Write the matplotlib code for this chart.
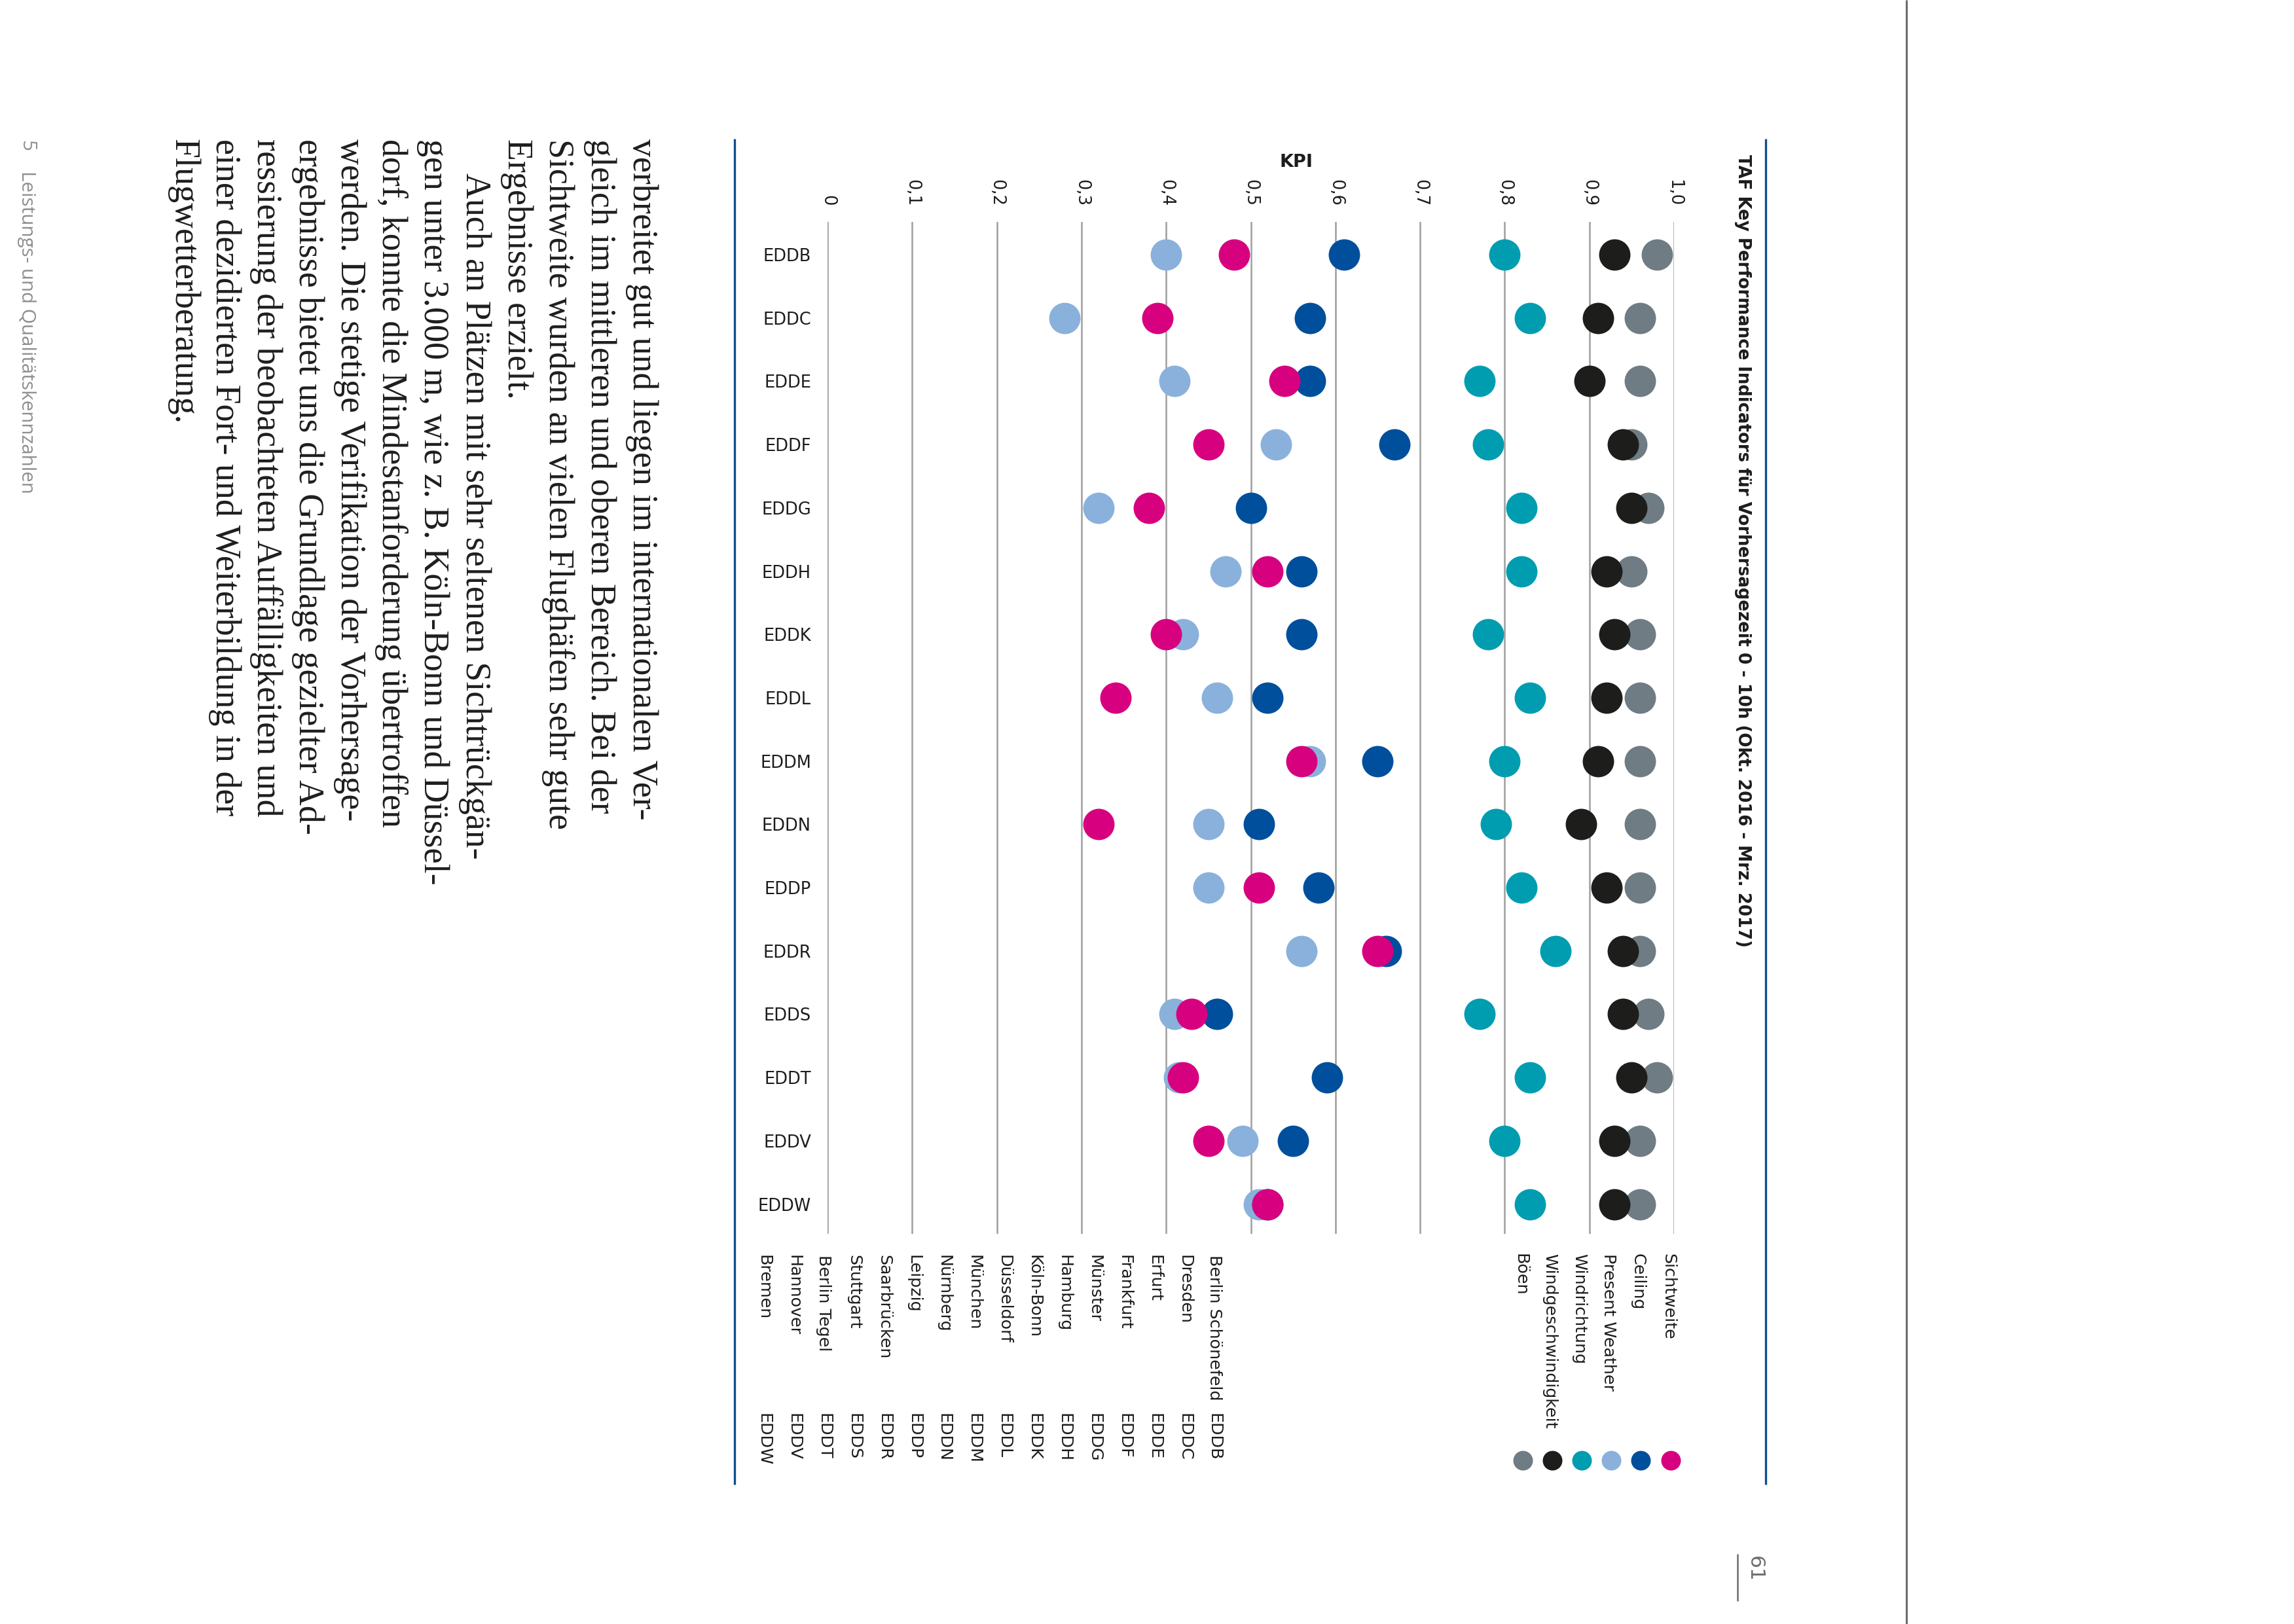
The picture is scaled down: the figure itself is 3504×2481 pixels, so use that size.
import numpy as np
import matplotlib
matplotlib.use("Agg")
import matplotlib.pyplot as plt
from matplotlib.lines import Line2D

# ---------------- data ----------------
stations = ['EDDB', 'EDDC', 'EDDE', 'EDDF', 'EDDG', 'EDDH', 'EDDK', 'EDDL',
            'EDDM', 'EDDN', 'EDDP', 'EDDR', 'EDDS', 'EDDT', 'EDDV', 'EDDW']
station_names = ['Berlin Schönefeld', 'Dresden', 'Erfurt', 'Frankfurt', 'Münster',
                 'Hamburg', 'Köln-Bonn', 'Düsseldorf', 'München', 'Nürnberg',
                 'Leipzig', 'Saarbrücken', 'Stuttgart', 'Berlin Tegel', 'Hannover', 'Bremen']
sichtweite = [0.48, 0.39, 0.54, 0.45, 0.38, 0.52, 0.40, 0.34, 0.56, 0.32, 0.51, 0.65, 0.43, 0.42, 0.45, 0.52]
ceiling = [0.61, 0.57, 0.57, 0.67, 0.50, 0.56, 0.56, 0.52, 0.65, 0.51, 0.58, 0.66, 0.46, 0.59, 0.55, 0.52]
present_weather = [0.40, 0.28, 0.41, 0.53, 0.32, 0.47, 0.42, 0.46, 0.57, 0.45, 0.45, 0.56, 0.41, 0.415, 0.49, 0.51]
windrichtung = [0.80, 0.83, 0.77, 0.78, 0.82, 0.82, 0.78, 0.83, 0.80, 0.79, 0.82, 0.86, 0.77, 0.83, 0.80, 0.83]
windgeschwindigkeit = [0.93, 0.91, 0.90, 0.94, 0.95, 0.92, 0.93, 0.92, 0.91, 0.89, 0.92, 0.94, 0.94, 0.95, 0.93, 0.93]
boeen = [0.98, 0.96, 0.96, 0.95, 0.97, 0.95, 0.96, 0.96, 0.96, 0.96, 0.96, 0.96, 0.97, 0.98, 0.96, 0.96]

series_names = ['Sichtweite', 'Ceiling', 'Present Weather', 'Windrichtung',
                'Windgeschwindigkeit', 'Böen']
series_values = [sichtweite, ceiling, present_weather, windrichtung,
                 windgeschwindigkeit, boeen]
series_colors = ['#d7007f', '#004f9c', '#8ab1db', '#009db1', '#1d1e1c', '#6f7c84']

kpi_ticks = [0.0, 0.1, 0.2, 0.3, 0.4, 0.5, 0.6, 0.7, 0.8, 0.9, 1.0]
kpi_labels = ['0', '0,1', '0,2', '0,3', '0,4', '0,5', '0,6', '0,7', '0,8', '0,9', '1,0']

title = 'TAF Key Performance Indicators für Vorhersagezeit 0 - 10h (Okt. 2016 - Mrz. 2017)'

body_lines = [
    'verbreitet gut und liegen im internationalen Ver-',
    'gleich im mittleren und oberen Bereich. Bei der',
    'Sichtweite wurden an vielen Flughäfen sehr gute',
    'Ergebnisse erzielt.',
    'Auch an Plätzen mit sehr seltenen Sichtrückgän-',
    'gen unter 3.000 m, wie z. B. Köln-Bonn und Düssel-',
    'dorf, konnte die Mindestanforderung übertroffen',
    'werden. Die stetige Verifikation der Vorhersage-',
    'ergebnisse bietet uns die Grundlage gezielter Ad-',
    'ressierung der beobachteten Auffälligkeiten und',
    'einer dezidierten Fort- und Weiterbildung in der',
    'Flugwetterberatung.',
]
body_indent = [0, 0, 0, 0, 1, 0, 0, 0, 0, 0, 0, 0]

# ---------------- page setup ----------------
W, H = 3504, 2481
DPI = 300
plt.rcParams['font.family'] = ['DejaVu Sans']

fig = plt.figure(figsize=(W / DPI, H / DPI), dpi=DPI)
fig.patch.set_facecolor('white')
renderer = fig.canvas.get_renderer()


def fx(px):
    return px / W


def fy(py):
    return 1 - py / H


def fit_size(s, target_px, **kw):
    t = fig.text(0, 0, s, size=10, **kw)
    w = t.get_window_extent(renderer).width
    t.remove()
    return 10.0 * target_px / w


def vline(x, y0, y1, color, lw):
    fig.add_artist(Line2D([fx(x), fx(x)], [fy(y0), fy(y1)], transform=fig.transFigure,
                          color=color, lw=lw, solid_capstyle='butt'))


def vtext(x, y, s, **kw):
    # text reading top-to-bottom, starting at pixel (x, y)
    return fig.text(fx(x), fy(y), s, rotation=-90, rotation_mode='anchor',
                    ha='left', va='center', **kw)


TXT = '#1c1c1c'

# ---------------- chart axes ----------------
ax_left, ax_right, ax_top, ax_bottom = 1264, 2557, 339, 1885
ax = fig.add_axes([fx(ax_left), fy(ax_bottom), fx(ax_right) - fx(ax_left), fy(ax_top) - fy(ax_bottom)])
ax.set_xlim(0, 1)
ypos = np.arange(len(stations))
ax.set_ylim(15.47, -0.517)
for sp in ax.spines.values():
    sp.set_visible(False)
ax.set_xticks(kpi_ticks)
ax.set_xticklabels(kpi_labels, rotation=-90, ha='center', va='bottom')
ax.xaxis.set_ticks_position('top')
ax.tick_params(axis='x', length=0, pad=5.8, labelsize=6.2, labelcolor=TXT,
               labeltop=True, labelbottom=False)
ax.set_yticks(ypos)
ax.set_yticklabels(stations)
ax.tick_params(axis='y', length=0, pad=6.0, labelsize=6.2, labelcolor=TXT)
ax.grid(axis='x', color='#9e9e9e', lw=0.6)
ax.grid(axis='y', visible=False)
ax.set_axisbelow(True)
ax.patch.set_alpha(0)

# draw in reverse legend order (Sichtweite on top)
for vals, col in reversed(list(zip(series_values, series_colors))):
    ax.plot(vals, ypos, ls='none', marker='o', ms=11.5, color=col, mec='none',
            clip_on=False, zorder=3)

fig.text(fx(1980), fy(248), 'KPI', ha='center', va='center', weight='bold',
         size=6.5, color=TXT)

# ---------------- title and frame lines ----------------
ts = fit_size(title, 1212, weight='bold')
vtext(2662, 236, title, weight='bold', size=ts, color=TXT)

vline(1122, 212, 2268, '#0f4f8e', 0.8)
vline(2697, 212, 2268, '#0f4f8e', 0.8)
vline(2912, 0, H, '#6d6d6d', 0.75)

# page number
vline(2654, 2374, 2446, '#6d6d6d', 0.6)
vtext(2680, 2377, '61', size=7.5, color='#6d6d6d')

# ---------------- legend ----------------
leg_x = [2548, 2502, 2457, 2412, 2367, 2322]
for name, col, x in zip(series_names, series_colors, leg_x):
    vtext(x, 1915, name, size=6.1, color=TXT)
    fig.add_artist(Line2D([fx(x + 4)], [fy(2231)], transform=fig.transFigure,
                          ls='none', marker='o', ms=7.2, color=col, mec='none'))

# ---------------- station list ----------------
for k, (code, name) in enumerate(zip(stations, station_names)):
    x = 1855 - 45.9 * k
    vtext(x, 1917, name, size=6.1, color=TXT)
    vtext(x, 2159, code, size=6.1, color=TXT)

# ---------------- body text ----------------
bs = fit_size(body_lines[0], 1040, family='Liberation Serif')
for k, (line, ind) in enumerate(zip(body_lines, body_indent)):
    x = 980 - 63.7 * k
    vtext(x, 212 + 52 * ind, line, size=bs, family='Liberation Serif', color='#1e1e1e')

# ---------------- side running head ----------------
side = 'Leistungs- und Qualitätskennzahlen'
ss = fit_size(side, 494, family='Open Sans')
vtext(41, 214, '5', size=ss, family='Open Sans', color='#8f8f8f')
vtext(41, 261, side, size=ss, family='Open Sans', color='#8f8f8f')

fig.savefig('out.png', dpi=DPI, facecolor='white')
